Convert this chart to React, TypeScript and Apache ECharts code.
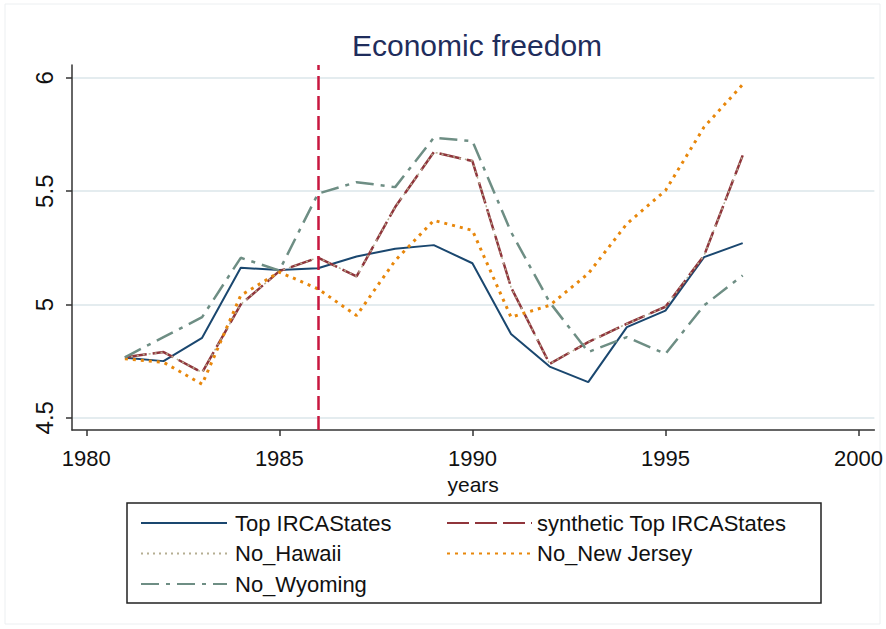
import React, { useEffect, useRef } from "react";
import * as echarts from "echarts";

const years = [1981, 1982, 1983, 1984, 1985, 1986, 1987, 1988, 1989, 1990, 1991, 1992, 1993, 1994, 1995, 1996, 1997];
const topIRCA = [4.765, 4.75, 4.853, 5.162, 5.152, 5.16, 5.212, 5.246, 5.262, 5.182, 4.87, 4.726, 4.657, 4.9, 4.973, 5.209, 5.271];
const syntheticTop = [4.767, 4.79, 4.7, 5.0, 5.147, 5.207, 5.124, 5.43, 5.672, 5.633, 5.076, 4.738, 4.834, 4.915, 4.99, 5.216, 5.658];
const noHawaii = [4.767, 4.79, 4.7, 5.0, 5.147, 5.207, 5.124, 5.43, 5.672, 5.633, 5.076, 4.738, 4.834, 4.915, 4.99, 5.216, 5.658];
const noNewJersey = [4.76, 4.745, 4.648, 5.04, 5.143, 5.069, 4.951, 5.194, 5.371, 5.327, 4.944, 4.996, 5.136, 5.356, 5.503, 5.783, 5.971];
const noWyoming = [4.767, 4.856, 4.944, 5.206, 5.15, 5.489, 5.54, 5.518, 5.736, 5.721, 5.32, 5.01, 4.79, 4.856, 4.782, 4.996, 5.128];

const xTicks = [1980, 1985, 1990, 1995, 2000];
const yTicks = [4.5, 5, 5.5, 6];
const treatmentYear = 1986;

const names = ["Top IRCAStates", "synthetic Top IRCAStates", "No_Hawaii", "No_New Jersey", "No_Wyoming"];

const FONT = "'Liberation Sans', Arial, sans-serif";

function pairs(vals: number[]) {
  return years.map((y, i) => [y, vals[i]]);
}

export default function App() {
  const ref = useRef<HTMLDivElement>(null);
  useEffect(() => {
    if (!ref.current) return;
    const chart = echarts.init(ref.current, null, { renderer: "svg" });
    const axisColor = "#333333";
    chart.setOption({
      animation: false,
      backgroundColor: "#ffffff",
      title: {
        text: "Economic freedom",
        left: 472,
        textAlign: "center",
        top: 25,
        textStyle: { fontFamily: FONT, fontSize: 30, fontWeight: "normal", color: "#1f2d5c" },
      },
      grid: { left: 72, right: 10, top: 65, bottom: 199, containLabel: false },
      xAxis: {
        type: "value",
        min: 1979.63,
        max: 2000.41,
        name: "years",
        nameLocation: "middle",
        nameGap: 39,
        nameTextStyle: { fontFamily: FONT, fontSize: 21, color: "#111" },
        axisLine: { show: true, lineStyle: { color: axisColor, width: 1.5 } },
        axisTick: { show: true, length: 6, customValues: xTicks, lineStyle: { color: axisColor, width: 1.5 } },
        axisLabel: {
          customValues: xTicks,
          formatter: (v: number) => String(v),
          fontFamily: FONT,
          fontSize: 22,
          color: "#111",
          margin: 17,
        },
        splitLine: { show: false },
      },
      yAxis: {
        type: "value",
        min: 4.446,
        max: 6.057,
        axisLine: { show: true, lineStyle: { color: axisColor, width: 1.5 } },
        axisTick: { show: true, length: 6, customValues: yTicks, lineStyle: { color: axisColor, width: 1.5 } },
        axisLabel: {
          customValues: yTicks,
          rotate: 90,
          formatter: (v: number) => String(v),
          fontFamily: FONT,
          fontSize: 24,
          color: "#111",
          margin: 16,
        },
        splitLine: { show: true, lineStyle: { color: "#e4ecef", width: 2 } },
      },
      legend: [
        {
          data: [names[0], names[2], names[4]],
          orient: "vertical",
          left: 135,
          top: 507,
          itemWidth: 86,
          itemHeight: 14,
          itemGap: 8.5,
          itemStyle: { opacity: 0 },
          textStyle: { fontFamily: FONT, fontSize: 22, lineHeight: 22, color: "#111", padding: [0, 0, 0, 3] },
        },
        {
          data: [names[1], names[3]],
          orient: "vertical",
          left: 441,
          top: 507,
          itemWidth: 85,
          itemHeight: 14,
          itemGap: 8.5,
          itemStyle: { opacity: 0 },
          textStyle: { fontFamily: FONT, fontSize: 22, lineHeight: 22, color: "#111", padding: [0, 0, 0, 0] },
        },
      ],
      graphic: [
        {
          type: "rect",
          shape: { x: 5, y: 4, width: 875, height: 620 },
          style: { fill: "none", stroke: "#eceff1", lineWidth: 1 },
          silent: true,
        },
        {
          type: "rect",
          shape: { x: 127, y: 503, width: 694, height: 100 },
          style: { fill: "none", stroke: "#222", lineWidth: 1.5 },
          silent: true,
        },
      ],
      series: [
        {
          name: names[0],
          type: "line",
          data: pairs(topIRCA),
          symbol: "none",
          lineStyle: { color: "#1a476f", width: 2, type: "solid" },
          itemStyle: { color: "#1a476f" },
          z: 3,
          markLine: {
            silent: true,
            symbol: ["none", "none"],
            label: { show: false },
            lineStyle: { color: "#c8173f", width: 2.5, type: [14, 6] },
            data: [{ xAxis: treatmentYear }],
          },
        },
        {
          name: names[1],
          type: "line",
          data: pairs(syntheticTop),
          symbol: "none",
          lineStyle: { color: "#90353b", width: 2.5, type: [22, 6] },
          itemStyle: { color: "#90353b" },
          z: 3,
        },
        {
          name: names[2],
          type: "line",
          data: pairs(noHawaii),
          symbol: "none",
          lineStyle: { color: "#b5ae92", width: 1.5, type: [2, 4] },
          itemStyle: { color: "#b5ae92" },
          z: 3,
        },
        {
          name: names[3],
          type: "line",
          data: pairs(noNewJersey),
          symbol: "none",
          lineStyle: { color: "#e8870b", width: 3, type: [3, 5] },
          itemStyle: { color: "#e8870b" },
          z: 3,
        },
        {
          name: names[4],
          type: "line",
          data: pairs(noWyoming),
          symbol: "none",
          lineStyle: { color: "#6e8e84", width: 2.5, type: [18, 7, 4, 7] },
          itemStyle: { color: "#6e8e84" },
          z: 3,
        },
      ],
    });
    return () => chart.dispose();
  }, []);
  return (
    <div
      ref={ref}
      style={{ position: "fixed", left: 0, top: 0, width: 886, height: 629, background: "#fff" }}
    />
  );
}
